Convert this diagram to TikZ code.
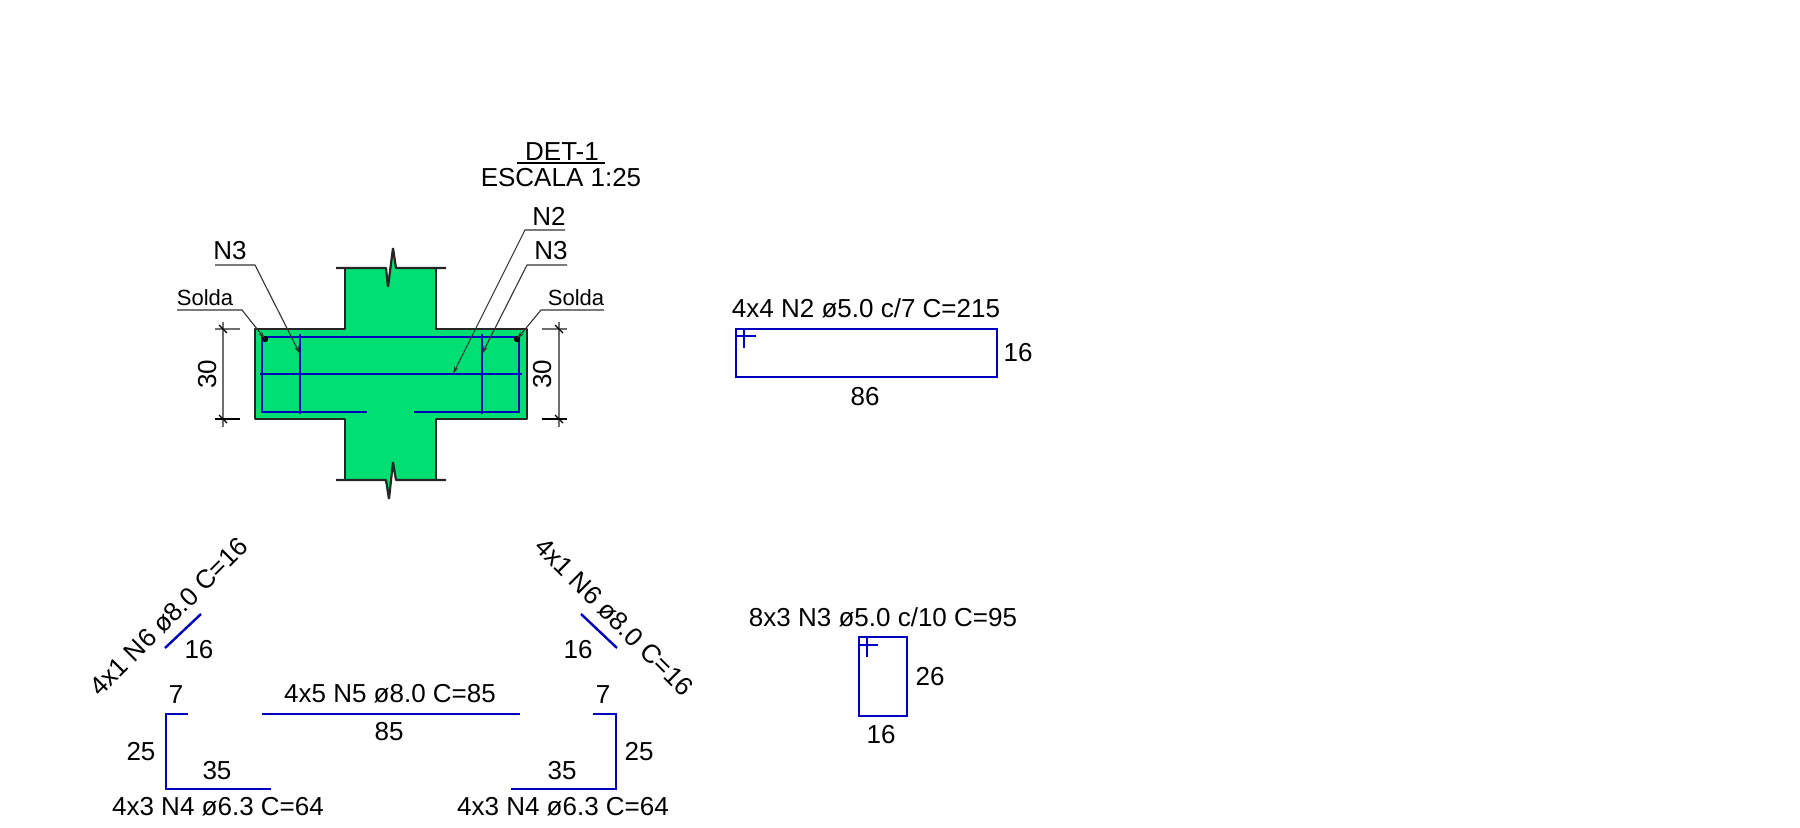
\documentclass[tikz,border=0pt]{standalone}
\usepackage{fontspec}
\setmainfont{Liberation Sans}
\usetikzlibrary{arrows.meta}
\definecolor{conc}{RGB}{0,223,114}
\definecolor{bar}{RGB}{0,0,190}
\definecolor{lead}{RGB}{50,50,50}
\definecolor{dimc}{RGB}{110,110,110}
\tikzset{
  txt/.style={inner sep=0pt,outer sep=0pt,text height=.716em,text depth=0pt,font=\fontsize{13pt}{13pt}\selectfont},
  lowtxt/.style={txt,yshift=-.9pt},
  smalltxt/.style={lowtxt,font=\fontsize{11pt}{11pt}\selectfont},
  rebar/.style={draw=bar,line width=1.2pt,line join=miter},
  outline/.style={draw=black!85,line width=1.1pt,line join=bevel},
  leader/.style={draw=lead,line width=.55pt},
  tipped/.style={leader,-{Stealth[length=4pt,width=2.2pt]}},
  dimline/.style={draw=dimc,line width=.8pt},
  tick/.style={draw=black,line width=.55pt},
  dotmark/.style={circle,fill=black,inner sep=0pt,minimum size=3.2pt,outer sep=0pt}
}
\begin{document}
\begin{tikzpicture}[x=.5pt,y=-.5pt]
\useasboundingbox (0,0) rectangle (1800,828);
% concrete
\fill[conc] (345,268) -- (386,268) -- (388,287) -- (393,248) -- (396,268) -- (436,268) -- (436,329) -- (527,329) -- (527,419) -- (436,419) -- (436,480) -- (396,480) -- (393,462) -- (389,499) -- (386,480) -- (345,480) -- (345,419) -- (255,419) -- (255,329) -- (345,329) -- cycle;
\draw[outline] (336,268) -- (386,268) -- (388,287) -- (393,248) -- (396,268) -- (446,268);
\draw[outline] (345,268) -- (345,329) -- (255,329) -- (255,419) -- (345,419) -- (345,480);
\draw[outline] (436,268) -- (436,329) -- (527,329) -- (527,419) -- (436,419) -- (436,480);
\draw[outline] (336,480) -- (386,480) -- (389,499) -- (393,462) -- (396,480) -- (446,480);
% section rebars
\draw[rebar] (367,412) -- (262,412) -- (262,337) -- (519,337) -- (519,412) -- (414,412);
\draw[rebar] (260,374) -- (522,374);
\draw[rebar] (300,334) -- (300,414);
\draw[rebar] (482,334) -- (482,414);
% weld dots
\node[dotmark] (dotL) at (265,339) {};
\node[dotmark] (dotR) at (517,339) {};
% dimensions
\draw[dimline] (223,322) -- (223,427);
\draw[dimline] (215,329) -- (240,329);
\draw[tick] (215,419) -- (240,419);
\draw[tick] (219,325) -- (227,333);
\draw[tick] (219,415) -- (227,423);
\draw[dimline] (559,322) -- (559,427);
\draw[dimline] (542,329) -- (567,329);
\draw[tick] (542,419) -- (567,419);
\draw[tick] (555,325) -- (563,333);
\draw[tick] (555,415) -- (563,423);
\node[txt,rotate=90] (dimL) at (209,374) {30};
\node[txt,rotate=90] (dimR) at (544,374) {30};
% title
\node[lowtxt] (title) at (562,152) {DET-1};
\node[lowtxt] (scale) at (561,178) {ESCALA 1:25};
\draw[black,line width=1.1pt] (517,163) -- (605,163);
% leader labels
\node[lowtxt] (lblNa) at (230,251) {N3};
\node[lowtxt] (lblNb) at (549,217) {N2};
\node[lowtxt] (lblNc) at (551,251) {N3};
\node[smalltxt] (solL) at (205,297) {Solda};
\node[smalltxt] (solR) at (576,297) {Solda};
\coordinate (a0) at (215,265); \coordinate (a1) at (255,265); \coordinate (a2) at (300,354);
\coordinate (b0) at (565,230); \coordinate (b1) at (525,230); \coordinate (b2) at (453,374);
\coordinate (c0) at (567,265); \coordinate (c1) at (527,265); \coordinate (c2) at (482,354);
\coordinate (d0) at (177,310); \coordinate (d1) at (242,310);
\coordinate (e0) at (604,310); \coordinate (e1) at (541,310);
\draw[tipped] (a0) -- (a1) -- (a2);
\draw[tipped] (b0) -- (b1) -- (b2);
\draw[tipped] (c0) -- (c1) -- (c2);
\draw[tipped] (d0) -- (d1) -- (dotL.center);
\draw[tipped] (e0) -- (e1) -- (dotR.center);
% N2 stirrup
\draw[rebar] (736,329) rectangle (997,377);
\draw[rebar] (736,336) -- (756,336);
\draw[rebar] (744,329) -- (744,348);
\node[lowtxt] (tN2) at (866,309) {4x4 N2 ø5.0 c/7 C=215};
\node[lowtxt] (tN2a) at (1018,353) {16};
\node[lowtxt] (tN2b) at (865,397) {86};
% N3 stirrup
\draw[rebar] (859,637) rectangle (907,716);
\draw[rebar] (859,645) -- (878,645);
\draw[rebar] (867,637) -- (867,657);
\node[lowtxt] (tN3) at (883,618) {8x3 N3 ø5.0 c/10 C=95};
\node[lowtxt] (tN3a) at (930,677) {26};
\node[lowtxt] (tN3b) at (881,735) {16};
% N6
\draw[rebar] (165,648) -- (201,614);
\node[txt,rotate=45] (tN6L) at (170,618) {4x1 N6 ø8.0 C=16};
\node[lowtxt] (tN6La) at (199,650) {16};
\draw[rebar] (581,614) -- (617,648);
\node[txt,rotate=-45] (tN6R) at (613,618) {4x1 N6 ø8.0 C=16};
\node[lowtxt] (tN6Ra) at (578,650) {16};
% N4 left
\draw[rebar] (188,714) -- (166,714) -- (166,789) -- (271,789);
\node[lowtxt] (n4La) at (176,695) {7};
\node[lowtxt] (n4Lb) at (141,752) {25};
\node[lowtxt] (n4Lc) at (217,771) {35};
\node[lowtxt] (n4L) at (218,807) {4x3 N4 ø6.3 C=64};
% N5
\draw[rebar] (262,714) -- (520,714);
\node[lowtxt] (n5) at (390,694) {4x5 N5 ø8.0 C=85};
\node[lowtxt] (n5a) at (389,732) {85};
% N4 right
\draw[rebar] (593,714) -- (616,714) -- (616,789) -- (511,789);
\node[lowtxt] (n4Ra) at (603,695) {7};
\node[lowtxt] (n4Rb) at (639,752) {25};
\node[lowtxt] (n4Rc) at (562,771) {35};
\node[lowtxt] (n4R) at (563,807) {4x3 N4 ø6.3 C=64};
\end{tikzpicture}
\end{document}
